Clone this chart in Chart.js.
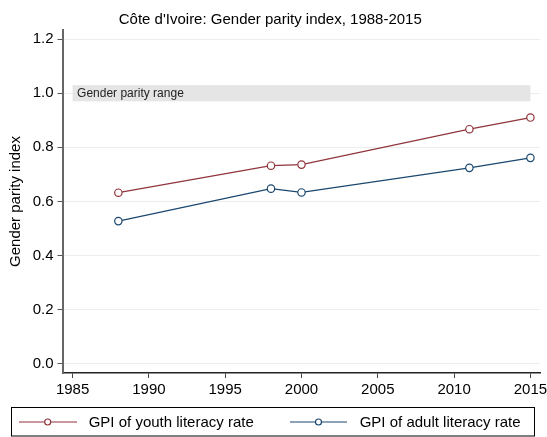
<!DOCTYPE html>
<html><head><meta charset="utf-8">
<script src="https://cdn.jsdelivr.net/npm/chart.js@4/dist/chart.umd.min.js"></script>
<style>html,body{margin:0;padding:0;background:#fff;}#wrap{width:547px;height:437px;position:relative;}</style>
</head><body><div id="wrap"><canvas id="c" width="547" height="437"></canvas></div>
<script>
// ---- data ----
const years = [1988, 1998, 2000, 2011, 2015];
const youthGPI = [0.632, 0.732, 0.736, 0.867, 0.910];
const adultGPI = [0.527, 0.647, 0.633, 0.724, 0.761];
const seriesLabels = ['GPI of youth literacy rate', 'GPI of adult literacy rate'];
const seriesColors = ['#90353b', '#1a476f'];
const xTicks = [1985, 1990, 1995, 2000, 2005, 2010, 2015];
const yTicks = [0, 0.2, 0.4, 0.6, 0.8, 1.0, 1.2];
const parityBand = [0.97, 1.03];
const parityYears = [1985, 2015];
const parityLabel = 'Gender parity range';
const titleText = "Côte d'Ivoire: Gender parity index, 1988-2015";
const yTitle = 'Gender parity index';

const FONT = "'Liberation Sans', Arial, Helvetica, sans-serif";

const parityPlugin = {
  id: 'parity',
  beforeDatasetsDraw(chart) {
    const {ctx, scales: {x, y}} = chart;
    const x0 = x.getPixelForValue(parityYears[0]);
    const x1 = x.getPixelForValue(parityYears[1]);
    const yTop = y.getPixelForValue(parityBand[1]);
    const yBot = y.getPixelForValue(parityBand[0]);
    ctx.save();
    ctx.fillStyle = '#e5e5e5';
    ctx.fillRect(x0, yTop, x1 - x0, yBot - yTop);
    ctx.fillStyle = '#222';
    ctx.font = '12px ' + FONT;
    ctx.textBaseline = 'middle';
    ctx.textAlign = 'left';
    ctx.fillText(parityLabel, x0 + 4.5, (yTop + yBot) / 2);
    ctx.restore();
  }
};

const legendPlugin = {
  id: 'boxLegend',
  afterDraw(chart) {
    const ctx = chart.ctx;
    ctx.save();
    ctx.strokeStyle = '#000';
    ctx.lineWidth = 1;
    ctx.strokeRect(11.5, 407.5, 523, 28.5);
    const items = [
      {x0: 19, x1: 77, cx: 47.7, tx: 88.7},
      {x0: 290, x1: 347, cx: 318.5, tx: 359.7}
    ];
    const yc = 422;
    items.forEach((it, i) => {
      ctx.strokeStyle = seriesColors[i];
      ctx.lineWidth = 1.2;
      ctx.beginPath();
      ctx.moveTo(it.x0, yc);
      ctx.lineTo(it.x1, yc);
      ctx.stroke();
      ctx.beginPath();
      ctx.arc(it.cx, yc, 3, 0, Math.PI * 2);
      ctx.fillStyle = '#fff';
      ctx.fill();
      ctx.stroke();
      ctx.fillStyle = '#000';
      ctx.font = '15px ' + FONT;
      ctx.textBaseline = 'middle';
      ctx.textAlign = 'left';
      ctx.fillText(chart.data.datasets[i].label, it.tx, yc + 0.5);
    });
    ctx.restore();
  }
};

const mk = (vals, i) => ({
  label: seriesLabels[i],
  data: years.map((yr, k) => ({x: yr, y: vals[k]})),
  borderColor: seriesColors[i],
  backgroundColor: '#fff',
  borderWidth: 1.2,
  pointRadius: 3.7,
  pointBorderWidth: 1.2,
  pointBackgroundColor: '#fff',
  pointBorderColor: seriesColors[i],
  tension: 0,
  fill: false
});

new Chart(document.getElementById('c'), {
  type: 'line',
  data: { datasets: [mk(youthGPI, 0), mk(adultGPI, 1)] },
  options: {
    responsive: false,
    animation: false,
    devicePixelRatio: 1,
    layout: { padding: { left: 0, right: 6.5, top: 0, bottom: 36 } },
    plugins: {
      legend: { display: false },
      tooltip: { enabled: false },
      title: {
        display: true, text: titleText, color: '#000',
        font: { family: FONT, size: 15, weight: 'normal' },
        padding: { top: 11, bottom: 1 }
      }
    },
    scales: {
      x: {
        type: 'linear', min: 1984.34, max: 2015.66,
        afterBuildTicks: s => { s.ticks = xTicks.map(v => ({value: v})); },
        afterFit: s => { s.height = 28; s.paddingLeft = 0; s.paddingRight = 0; },
        ticks: { callback: v => String(v), color: '#000', font: { family: FONT, size: 15 }, padding: 3, maxRotation: 0, autoSkip: false },
        grid: { drawOnChartArea: false, drawTicks: true, tickLength: 5, color: '#444', lineWidth: 1 },
        border: { color: '#222', width: 1.5 }
      },
      y: {
        type: 'linear', min: -0.035, max: 1.234,
        afterBuildTicks: s => { s.ticks = yTicks.map(v => ({value: v})); },
        afterFit: s => { s.width = 62.5; s.paddingTop = 0; s.paddingBottom = 0; },
        ticks: { callback: v => v.toFixed(1), color: '#000', font: { family: FONT, size: 15 }, padding: 4 },
        grid: { color: '#ececec', lineWidth: 1, drawTicks: true, tickLength: 5, tickColor: '#555' },
        border: { color: '#666', width: 2 },
        title: { display: true, text: yTitle, color: '#000', font: { family: FONT, size: 15 }, padding: { top: 7, bottom: 0 } }
      }
    }
  },
  plugins: [parityPlugin, legendPlugin]
});
</script>
</body></html>
